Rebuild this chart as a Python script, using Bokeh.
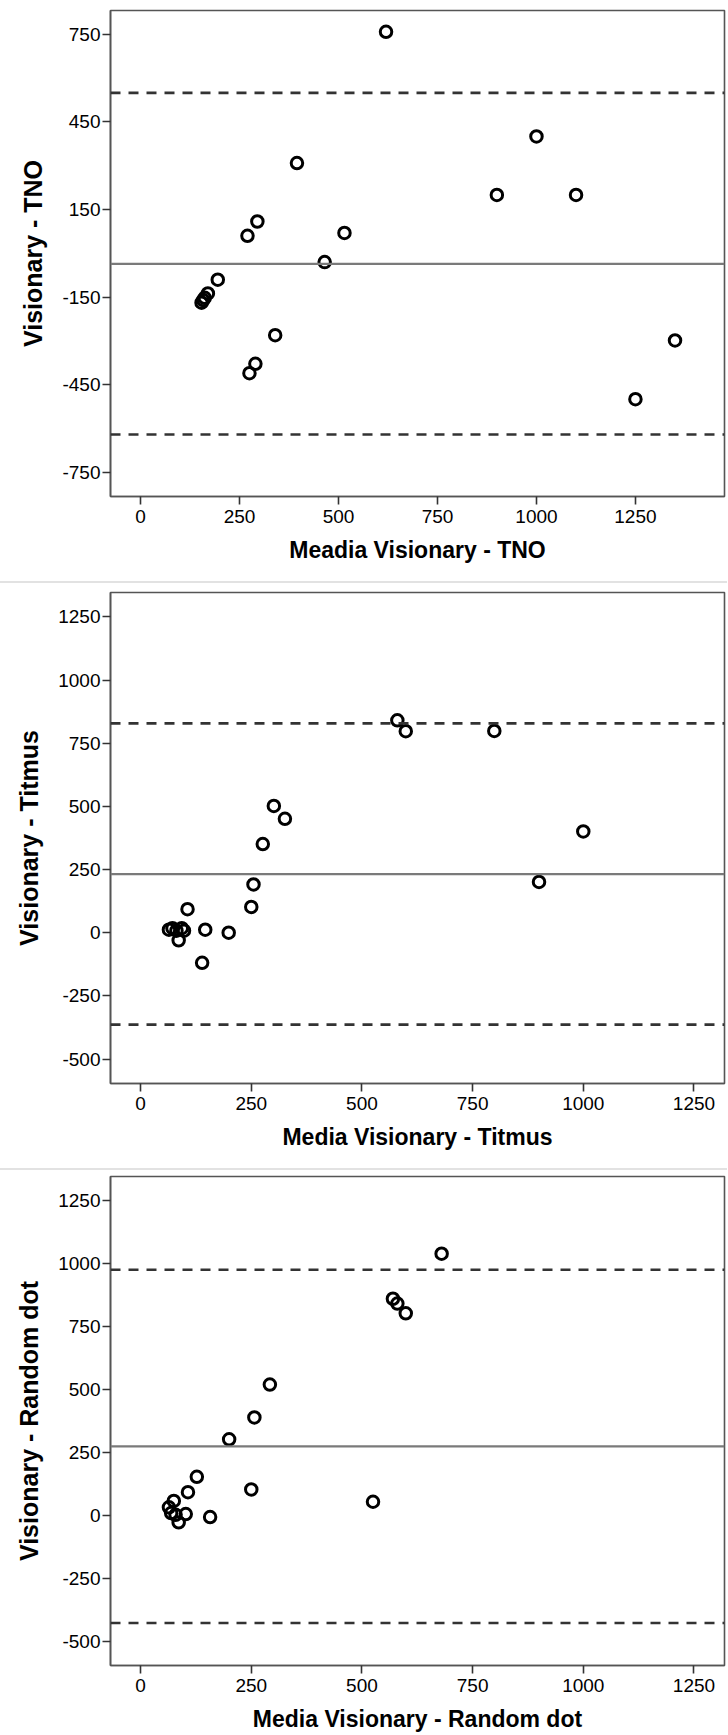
from bokeh.plotting import figure
from bokeh.models import Span, FixedTicker, Range1d, Div, PrintfTickFormatter
from bokeh.layouts import column
from bokeh.embed import file_html
from bokeh.resources import INLINE

# ---------------- data ----------------
# Panel 1: Visionary - TNO
tno_mean = [620, 1000, 395, 900, 1100, 295, 270, 515, 465, 195, 170, 162, 158, 154, 340, 290, 275, 1250, 1350]
tno_diff = [758, 400, 309, 200, 200, 109, 60, 70, -30, -90, -137, -152, -160, -169, -280, -378, -410, -499, -298]
tno_bias, tno_upper, tno_lower = -36, 549, -620

# Panel 2: Visionary - Titmus
tit_mean = [580, 599, 799, 301, 326, 276, 1000, 900, 255, 250, 106, 146, 199, 139, 86, 64, 72, 93, 98, 81]
tit_diff = [841, 798, 799, 502, 451, 351, 401, 201, 191, 102, 93, 12, 0, -119, -30, 12, 18, 18, 8, 8]
tit_bias, tit_upper, tit_lower = 232, 829, -364

# Panel 3: Visionary - Random dot
rd_mean = [680, 570, 580, 599, 292, 257, 200, 127, 250, 525, 107, 75, 64, 69, 79, 102, 86, 157]
rd_diff = [1040, 861, 842, 803, 520, 389, 302, 153, 103, 54, 92, 57, 32, 9, 2, 5, -28, -7]
rd_bias, rd_upper, rd_lower = 274, 976, -428

x_ticks = [0, 250, 500, 750, 1000, 1250]
y_ticks_tno = [-750, -450, -150, 150, 450, 750]
y_ticks_other = [-500, -250, 0, 250, 500, 750, 1000, 1250]

FONT = "Liberation Sans"


def make_panel(xs, ys, bias, upper, lower, xr, yr, yticks, xlabel, ylabel,
               height, top, bottom):
    p = figure(width=727, height=height, x_range=Range1d(*xr), y_range=Range1d(*yr),
               output_backend="svg", toolbar_location=None,
               min_border_left=110, min_border_right=3,
               min_border_top=top, min_border_bottom=bottom)
    p.grid.visible = False
    p.background_fill_color = "white"
    p.border_fill_color = "white"
    p.outline_line_color = "#555555"
    p.outline_line_width = 1.6
    p.outline_line_alpha = 1.0

    for ax in (p.xaxis[0], p.yaxis[0]):
        ax.axis_line_color = "#555555"
        ax.axis_line_width = 1.6
        ax.major_tick_line_color = "#333333"
        ax.major_tick_line_width = 1.6
        ax.major_tick_in = 0
        ax.minor_tick_line_color = None
        ax.formatter = PrintfTickFormatter(format="%d")
        ax.major_label_text_font = FONT
        ax.major_label_text_font_size = "19px"
        ax.major_label_text_color = "#000000"
        ax.axis_label_text_font = FONT
        ax.axis_label_text_font_style = "bold"
        ax.axis_label_text_color = "#000000"

    p.xaxis[0].ticker = FixedTicker(ticks=x_ticks)
    p.xaxis[0].major_tick_out = 8
    p.xaxis[0].major_label_standoff = 5
    p.xaxis[0].axis_label_standoff = 11
    p.xaxis[0].axis_label_text_font_size = "23px"
    p.xaxis[0].axis_label = xlabel

    p.yaxis[0].ticker = FixedTicker(ticks=yticks)
    p.yaxis[0].major_tick_out = 8
    p.yaxis[0].major_label_standoff = 2
    p.yaxis[0].axis_label_standoff = 12
    p.yaxis[0].axis_label_text_font_size = "25px"
    p.yaxis[0].axis_label = ylabel

    p.add_layout(Span(location=bias, dimension="width", line_color="#7a7a7a", line_width=2.2))
    for loc in (upper, lower):
        p.add_layout(Span(location=loc, dimension="width", line_color="#333333",
                          line_width=2.6, line_dash="10 8"))

    p.scatter(xs, ys, marker="circle", size=11.5, fill_color=None,
              line_color="black", line_width=3)
    return p


p1 = make_panel(tno_mean, tno_diff, tno_bias, tno_upper, tno_lower,
                (-76, 1475), (-832, 831), y_ticks_tno,
                "Meadia Visionary - TNO", "Visionary - TNO", 581, 10, 85)
p2 = make_panel(tit_mean, tit_diff, tit_bias, tit_upper, tit_lower,
                (-68, 1319), (-597, 1347), y_ticks_other,
                "Media Visionary - Titmus", "Visionary - Titmus", 585, 9, 85)
p3 = make_panel(rd_mean, rd_diff, rd_bias, rd_upper, rd_lower,
                (-68, 1319), (-597, 1347), y_ticks_other,
                "Media Visionary - Random dot", "Visionary - Random dot", 564, 6, 68)


def sep():
    return Div(text="", width=727, height=2, margin=(0, 0, 0, 0),
               styles={"background-color": "#e2e2e2"})


layout = column(p1, sep(), p2, sep(), p3, spacing=0)
open("out.html", "w").write(file_html(layout, INLINE))
